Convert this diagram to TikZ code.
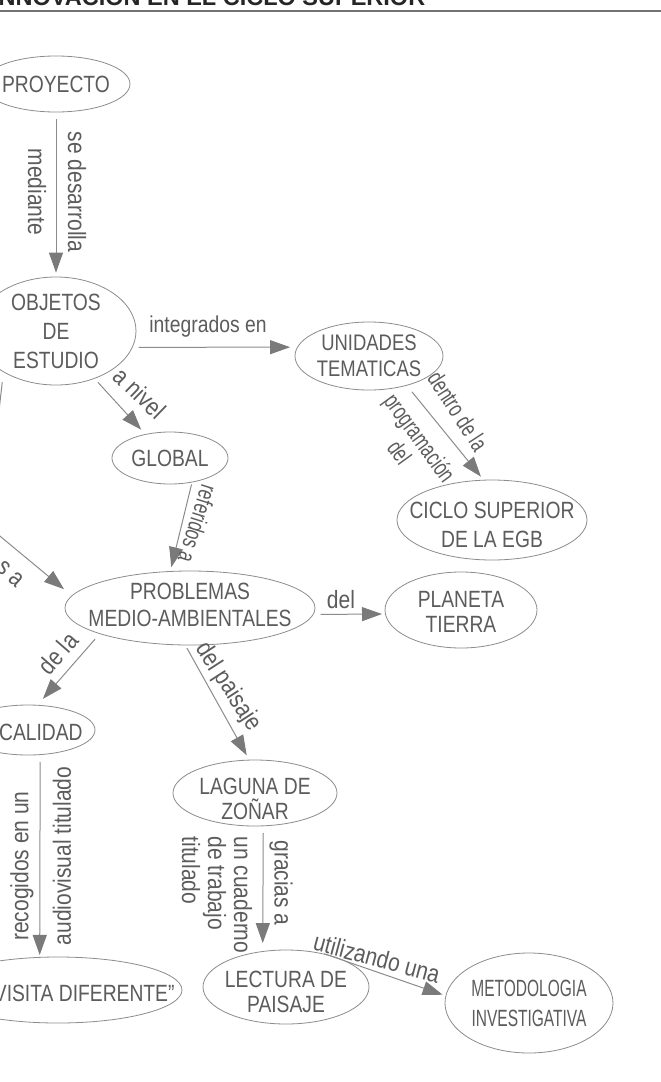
\documentclass[tikz,border=0pt]{standalone}
\usepackage{fontspec}
\setmainfont{Liberation Sans}[FakeStretch=0.82]
\newfontfamily\lblfont{Liberation Sans}[FakeStretch=0.84]
\newfontfamily\condlblfont{Liberation Sans}[FakeStretch=0.7]
\newfontfamily\narrowfont{Liberation Sans}[FakeStretch=0.66]
\newfontfamily\headfont{Liberation Sans}
\usetikzlibrary{shapes.geometric, arrows.meta}
\definecolor{inkc}{HTML}{5C5C5C}
\definecolor{linec}{HTML}{8C8C8C}
\definecolor{tipc}{HTML}{7A7A7A}
\tikzset{
  concept/.style={ellipse, draw=linec, line width=0.8bp, inner sep=0pt},
  ctext/.style={text=inkc, font=\fontsize{23.5bp}{27bp}\selectfont, align=center, inner sep=0pt},
  conn/.style={draw=linec, line width=1bp, -{Triangle[length=20bp,width=14bp,color=tipc]}, shorten <=5bp, shorten >=5bp},
  plainconn/.style={draw=linec, line width=1bp},
  lbl/.style={text=inkc, font=\lblfont\fontsize{25bp}{26bp}\selectfont, inner sep=0pt},
  condlbl/.style={text=inkc, font=\condlblfont\fontsize{24bp}{25bp}\selectfont, inner sep=0pt},
}
\begin{document}
\begin{tikzpicture}[x=1bp, y=-1bp]
\useasboundingbox (0,0) rectangle (661,1082);
\fill[white] (0,0) rectangle (661,1082);

% header
\node[anchor=base west, inner sep=0pt, text=black!85, font=\headfont\bfseries\fontsize{23.5bp}{27bp}\selectfont] (head) at (-8,5) {INNOVACION EN EL CICLO SUPERIOR};
\draw[line width=1.3bp, color=black!55] (0,11) -- (661,11);

% concepts
\node[concept, minimum width=148bp, minimum height=56bp, label={[ctext]center:PROYECTO}] (proj) at (56,84) {};
\node[concept, minimum width=160bp, minimum height=108bp, label={[ctext, font=\fontsize{23.5bp}{29bp}\selectfont]center:OBJETOS\\DE\\ESTUDIO}] (obj) at (56,331) {};
\node[concept, minimum width=148bp, minimum height=68bp, label={[ctext, font=\fontsize{22.5bp}{26bp}\selectfont]center:UNIDADES\\TEMATICAS}] (uni) at (369,356) {};
\node[concept, minimum width=116bp, minimum height=52bp, label={[ctext]center:GLOBAL}] (glob) at (170,458) {};
\node[concept, minimum width=190bp, minimum height=80bp, label={[ctext, yshift=-5bp, font=\fontsize{23.5bp}{29bp}\selectfont]center:CICLO SUPERIOR\\DE LA EGB}] (ciclo) at (492,520) {};
\node[concept, minimum width=250bp, minimum height=74bp, label={[ctext, yshift=3bp]center:PROBLEMAS\\MEDIO-AMBIENTALES}] (prob) at (190,608) {};
\node[concept, minimum width=152bp, minimum height=76bp, label={[ctext, yshift=-2bp, font=\fontsize{23.5bp}{25bp}\selectfont]center:PLANETA\\TIERRA}] (plan) at (461,610) {};
\node[concept, minimum width=134bp, minimum height=50bp, label={[ctext, yshift=-2bp]center:\phantom{LO}CALIDAD}] (loc) at (28,730) {};
\node[concept, minimum width=164bp, minimum height=66bp, label={[ctext, yshift=-6bp, font=\fontsize{23.5bp}{25bp}\selectfont]center:LAGUNA DE\\ZOÑAR}] (lag) at (255,793) {};
\node[concept, minimum width=248bp, minimum height=66bp, label={[ctext, yshift=-3bp]center:\phantom{``UNA }VISITA DIFERENTE''}] (vis) at (58,990) {};
\node[concept, minimum width=166bp, minimum height=74bp, label={[ctext, yshift=-5bp, font=\fontsize{23.5bp}{25bp}\selectfont]center:LECTURA DE\\PAISAJE}] (lec) at (286,987) {};
\node[concept, minimum width=168bp, minimum height=100bp, label={[ctext, font=\narrowfont\fontsize{23.5bp}{30bp}\selectfont]center:METODOLOGIA\\INVESTIGATIVA}] (met) at (529,1003) {};

% free ends of connectors leaving the frame
\coordinate (offa) at (-2,420);
\coordinate (offb) at (-40,503);

% connectors
\draw[conn, shorten <=7bp, shorten >=4bp] (proj) -- (obj);
\draw[conn, shorten <=6bp, shorten >=7bp] (obj.-12) -- (uni.173);
\draw[conn, shorten <=5bp, shorten >=6bp] (obj.-51) -- (glob.136);
\draw[conn, shorten <=2bp, shorten >=4bp] (glob.-48) -- (prob.118);
\draw[conn, shorten <=8bp, shorten >=4bp] (uni.-38) -- (ciclo.102);
\draw[conn, shorten <=7bp, shorten >=3bp] (prob.-3) -- (plan.183);
\draw[conn, shorten <=7bp, shorten >=8bp] (prob.196) -- (loc.69);
\draw[conn, shorten <=3bp, shorten >=5bp] (prob.263) -- (lag.100);
\draw[conn, shorten <=7bp, shorten >=2bp] (loc.-64) -- (vis.119);
\draw[conn, shorten <=7bp, shorten >=8bp] (lag.-76) -- (lec.123);
\draw[conn, shorten <=0bp, shorten >=3bp] (lec.41) -- (met.175);
\draw[conn, shorten <=0bp, shorten >=10bp] (offb) -- (prob.174);
\draw[plainconn, shorten <=10bp] (obj.218) -- (offa);

% connector labels
\node[lbl, rotate=-90] (l1) at (77,192) {se desarrolla};
\node[lbl, rotate=-90] (l2) at (37,192) {mediante};
\node[lbl, font=\lblfont\fontsize{23bp}{26bp}\selectfont] (l3) at (208,327) {integrados en};
\node[lbl, rotate=-44] (l4) at (140,393) {a nivel};
\node[condlbl, rotate=-107.5] (l5) at (198,524) {referidos a};
\node[condlbl, rotate=-57] (l6) at (458,411) {dentro de la};
\node[condlbl, rotate=-54, align=center] (l7) at (410,445) {programación\\del};
\node[lbl, rotate=-41.6] (l8) at (10,574) {s a};
\node[lbl] (l9) at (341,600) {del};
\node[lbl, rotate=49] (l10) at (58,653) {de la};
\node[lbl, rotate=-57] (l11) at (228,687) {del paisaje};
\node[lbl, rotate=90] (l12) at (22,866) {recogidos en un};
\node[lbl, rotate=90] (l13) at (62,856) {audiovisual titulado};
\node[lbl, rotate=-90] (l14) at (281,883) {gracias a};
\node[lbl, rotate=-90, align=left] (l15) at (217,895) {un cuaderno\\de trabajo\\titulado};
\node[lbl, rotate=-15] (l16) at (377,958) {utilizando una};
\end{tikzpicture}
\end{document}
